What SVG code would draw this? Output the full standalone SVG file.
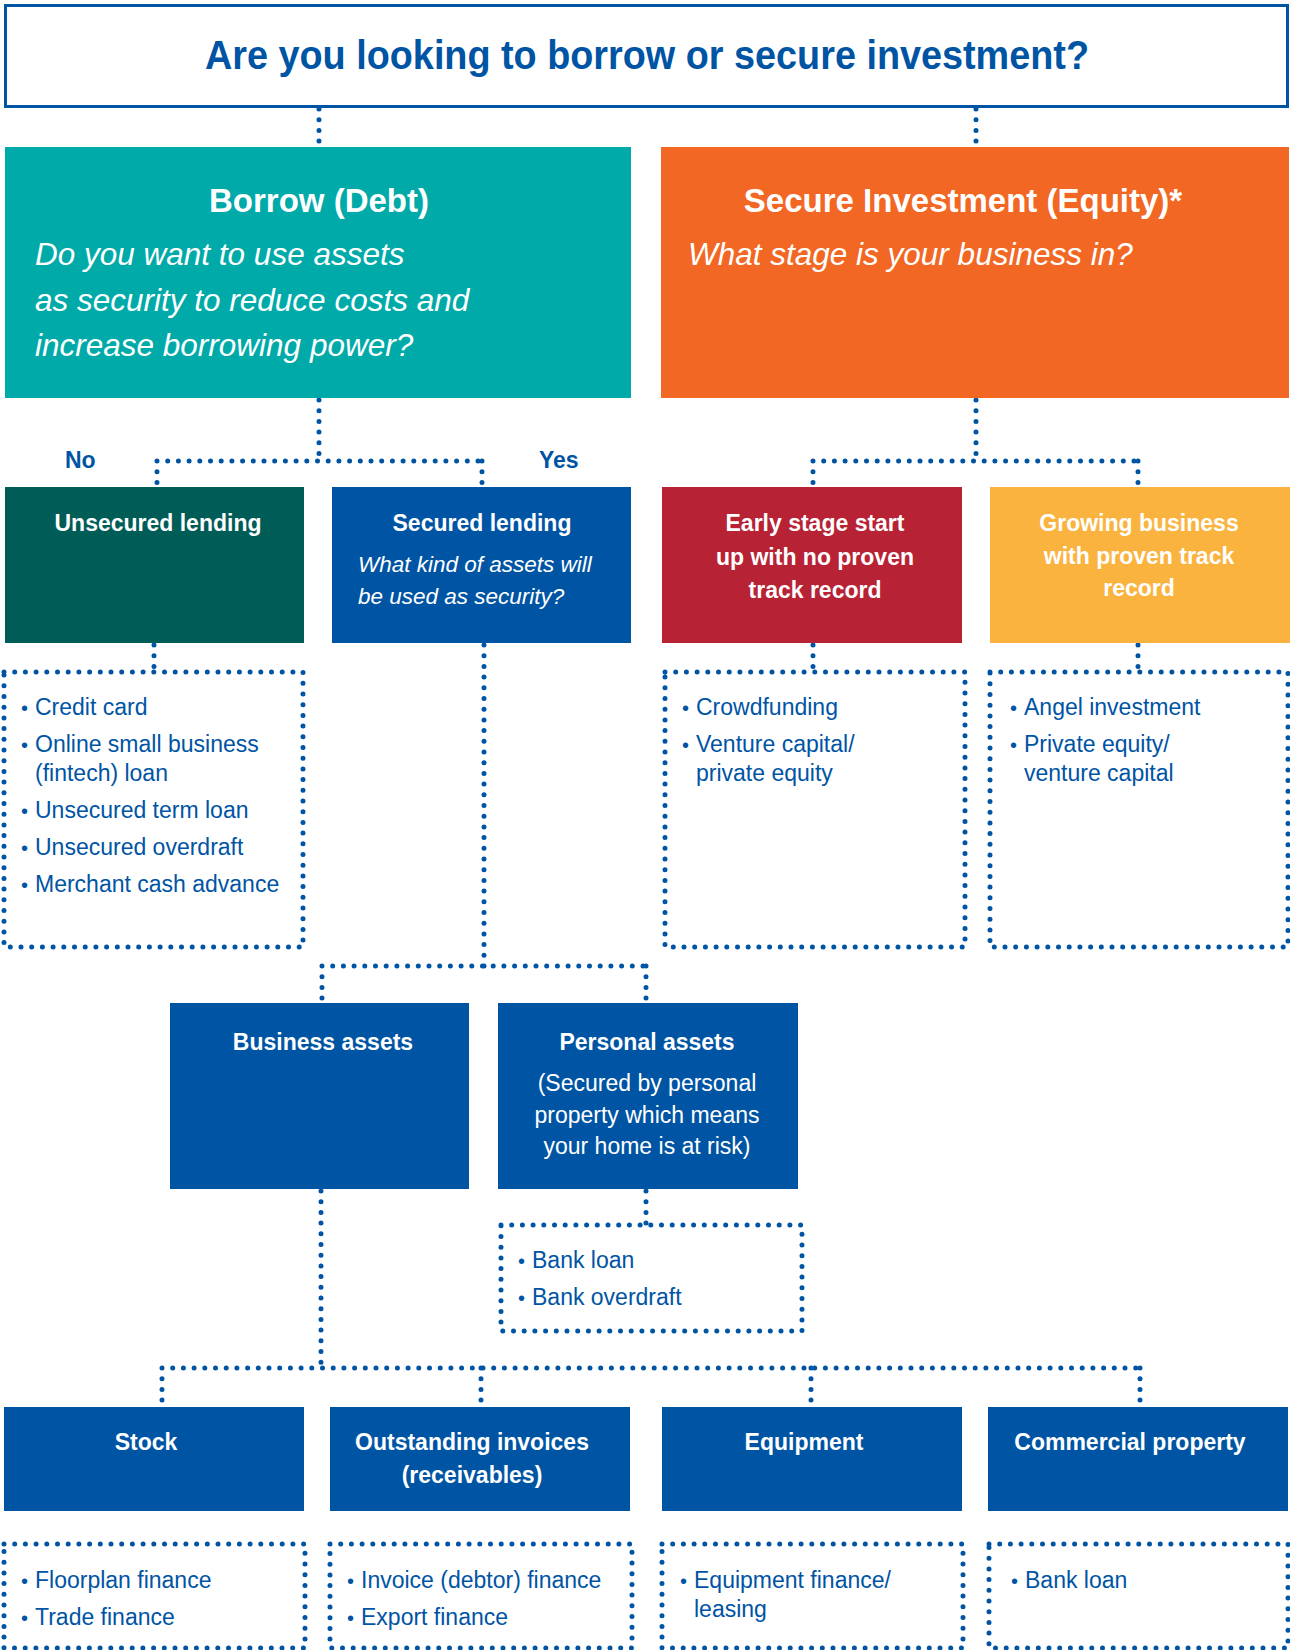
<svg xmlns="http://www.w3.org/2000/svg" width="1290" height="1650" viewBox="0 0 1290 1650">
<style>
text{font-family:"Liberation Sans",Arial,sans-serif}
.hb{font-weight:bold;fill:#fff;font-size:23px;text-anchor:middle}
.hr{fill:#fff;font-size:23px;text-anchor:middle}
.it{font-style:italic;fill:#fff}
.li{fill:#0054a4;font-size:23px}
.bu{font-size:20px}
.lab{font-weight:bold;fill:#0054a4;font-size:23px}
.dot{fill:none;stroke:#0054a4;stroke-width:5;stroke-linecap:round;stroke-dasharray:0 10.7}
</style>
<rect width="1290" height="1650" fill="#fff"/>

<g id="connectors" class="dot">
<path d="M319 109V147M976 109V147"/>
<path d="M319 400V461M157 461H482M157 461V487M482 461V487"/>
<path d="M976 400V461M813 461H1138M813 461V487M1138 461V487"/>
<path d="M154 645V672M813 645V672M1138 645V672"/>
<path d="M484 645V966M322 966H646M322 966V1003M646 966V1003"/>
<path d="M646 1191V1225"/>
<path d="M321 1191V1368M162 1368H1140M162 1368V1407M481 1368V1407M811 1368V1407M1140 1368V1407"/>
</g>

<g id="title">
<rect x="5.5" y="5.5" width="1282" height="101" fill="#fff" stroke="#0054a4" stroke-width="3"/>
<text x="647" y="69" font-size="41" font-weight="bold" fill="#0054a4" text-anchor="middle" textLength="884" lengthAdjust="spacingAndGlyphs">Are you looking to borrow or secure investment?</text>
</g>

<g id="borrow">
<rect x="5" y="147" width="626" height="251" fill="#00aaa8"/>
<text x="319" y="212" font-size="33" font-weight="bold" fill="#fff" text-anchor="middle">Borrow (Debt)</text>
<text class="it" font-size="31.5"><tspan x="35" y="265">Do you want to use assets</tspan><tspan x="35" y="311">as security to reduce costs and</tspan><tspan x="35" y="356">increase borrowing power?</tspan></text>
</g>

<g id="equity">
<rect x="661" y="147" width="628" height="251" fill="#f26724"/>
<text x="963" y="212" font-size="33" font-weight="bold" fill="#fff" text-anchor="middle">Secure Investment (Equity)*</text>
<text class="it" font-size="31.5" x="688" y="265">What stage is your business in?</text>
</g>

<g id="label-no"><text class="lab" x="65" y="468">No</text></g>
<g id="label-yes"><text class="lab" x="539" y="468">Yes</text></g>

<g id="unsecured">
<rect x="5" y="487" width="299" height="156" fill="#005c57"/>
<text class="hb" x="158" y="531">Unsecured lending</text>
</g>

<g id="secured">
<rect x="332" y="487" width="299" height="156" fill="#0054a4"/>
<text class="hb" x="482" y="531">Secured lending</text>
<text class="it" font-size="22.5"><tspan x="358" y="572">What kind of assets will</tspan><tspan x="358" y="604">be used as security?</tspan></text>
</g>

<g id="early">
<rect x="662" y="487" width="300" height="156" fill="#b72234"/>
<text class="hb"><tspan x="815" y="531">Early stage start</tspan><tspan x="815" y="565">up with no proven</tspan><tspan x="815" y="598">track record</tspan></text>
</g>

<g id="growing">
<rect x="990" y="487" width="300" height="156" fill="#fbb340"/>
<text class="hb"><tspan x="1139" y="531">Growing business</tspan><tspan x="1139" y="564">with proven track</tspan><tspan x="1139" y="596">record</tspan></text>
</g>

<g id="unsecured-list">
<rect class="dot" x="4" y="672" width="299" height="275"/>
<text class="li"><tspan class="bu" x="21" y="715">•</tspan><tspan x="35">Credit card</tspan></text>
<text class="li"><tspan class="bu" x="21" y="752">•</tspan><tspan x="35">Online small business</tspan><tspan x="35" y="781">(fintech) loan</tspan></text>
<text class="li"><tspan class="bu" x="21" y="818">•</tspan><tspan x="35">Unsecured term loan</tspan></text>
<text class="li"><tspan class="bu" x="21" y="855">•</tspan><tspan x="35">Unsecured overdraft</tspan></text>
<text class="li"><tspan class="bu" x="21" y="892">•</tspan><tspan x="35">Merchant cash advance</tspan></text>
</g>

<g id="early-list">
<rect class="dot" x="665" y="672" width="300" height="275"/>
<text class="li"><tspan class="bu" x="682" y="715">•</tspan><tspan x="696">Crowdfunding</tspan></text>
<text class="li"><tspan class="bu" x="682" y="752">•</tspan><tspan x="696">Venture capital/</tspan><tspan x="696" y="781">private equity</tspan></text>
</g>

<g id="growing-list">
<rect class="dot" x="990" y="672" width="298" height="275"/>
<text class="li"><tspan class="bu" x="1010" y="715">•</tspan><tspan x="1024">Angel investment</tspan></text>
<text class="li"><tspan class="bu" x="1010" y="752">•</tspan><tspan x="1024">Private equity/</tspan><tspan x="1024" y="781">venture capital</tspan></text>
</g>

<g id="business-assets">
<rect x="170" y="1003" width="299" height="186" fill="#0054a4"/>
<text class="hb" x="323" y="1050">Business assets</text>
</g>

<g id="personal-assets">
<rect x="498" y="1003" width="300" height="186" fill="#0054a4"/>
<text class="hb" x="647" y="1050">Personal assets</text>
<text class="hr"><tspan x="647" y="1091">(Secured by personal</tspan><tspan x="647" y="1123">property which means</tspan><tspan x="647" y="1154">your home is at risk)</tspan></text>
</g>

<g id="personal-list">
<rect class="dot" x="501" y="1225" width="301" height="106"/>
<text class="li"><tspan class="bu" x="518" y="1268">•</tspan><tspan x="532">Bank loan</tspan></text>
<text class="li"><tspan class="bu" x="518" y="1305">•</tspan><tspan x="532">Bank overdraft</tspan></text>
</g>

<g id="stock">
<rect x="4" y="1407" width="300" height="104" fill="#0054a4"/>
<text class="hb" x="146" y="1450">Stock</text>
</g>

<g id="invoices">
<rect x="330" y="1407" width="300" height="104" fill="#0054a4"/>
<text class="hb"><tspan x="472" y="1450">Outstanding invoices</tspan><tspan x="472" y="1483">(receivables)</tspan></text>
</g>

<g id="equipment">
<rect x="662" y="1407" width="300" height="104" fill="#0054a4"/>
<text class="hb" x="804" y="1450">Equipment</text>
</g>

<g id="commercial">
<rect x="988" y="1407" width="300" height="104" fill="#0054a4"/>
<text class="hb" x="1130" y="1450">Commercial property</text>
</g>

<g id="stock-list">
<rect class="dot" x="4" y="1544" width="301" height="104"/>
<text class="li"><tspan class="bu" x="21" y="1588">•</tspan><tspan x="35">Floorplan finance</tspan></text>
<text class="li"><tspan class="bu" x="21" y="1625">•</tspan><tspan x="35">Trade finance</tspan></text>
</g>

<g id="invoices-list">
<rect class="dot" x="330" y="1544" width="302" height="104"/>
<text class="li"><tspan class="bu" x="347" y="1588">•</tspan><tspan x="361">Invoice (debtor) finance</tspan></text>
<text class="li"><tspan class="bu" x="347" y="1625">•</tspan><tspan x="361">Export finance</tspan></text>
</g>

<g id="equipment-list">
<rect class="dot" x="662" y="1544" width="301" height="104"/>
<text class="li"><tspan class="bu" x="680" y="1588">•</tspan><tspan x="694">Equipment finance/</tspan><tspan x="694" y="1617">leasing</tspan></text>
</g>

<g id="commercial-list">
<rect class="dot" x="989" y="1544" width="299" height="104"/>
<text class="li"><tspan class="bu" x="1011" y="1588">•</tspan><tspan x="1025">Bank loan</tspan></text>
</g>
</svg>
